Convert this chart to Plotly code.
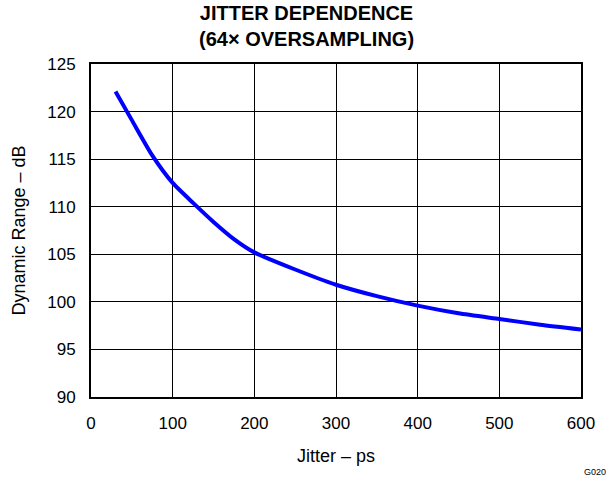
import plotly.graph_objects as go

# Dynamic range vs. clock jitter, 64x oversampling
jitter_ps = [30, 50, 75, 100, 125, 150, 175, 200, 250, 300, 350, 400, 450, 500, 550, 600]
dynamic_range_db = [122.1, 119.1, 115.4, 112.5, 110.4, 108.4, 106.6, 105.2, 103.4, 101.8,
                    100.6, 99.6, 98.8, 98.2, 97.6, 97.1]

x_ticks = [0, 100, 200, 300, 400, 500, 600]
y_ticks = [90, 95, 100, 105, 110, 115, 120, 125]

font_family = "Liberation Sans, Arial, sans-serif"

fig = go.Figure()
fig.add_trace(go.Scatter(
    x=jitter_ps, y=dynamic_range_db, mode="lines",
    line=dict(color="#0000FF", width=4, shape="spline", smoothing=0.6),
    hoverinfo="skip", showlegend=False,
))

axis_common = dict(
    showline=True, linecolor="black", linewidth=2, mirror=True,
    showgrid=True, gridcolor="black", gridwidth=1,
    ticks="", zeroline=False,
    tickfont=dict(family=font_family, size=17, color="black"),
)

fig.update_xaxes(range=[0, 600], tickvals=x_ticks, ticklabelstandoff=10, **axis_common)
fig.update_yaxes(range=[90, 125], tickvals=y_ticks, ticklabelstandoff=10, **axis_common)

fig.update_layout(
    width=612, height=478,
    margin=dict(l=91, r=31, t=64, b=81),
    paper_bgcolor="white", plot_bgcolor="white",
    font=dict(family=font_family, color="black"),
    annotations=[
        dict(text="<b>JITTER DEPENDENCE<br>(64\u00d7 OVERSAMPLING)</b>",
             xref="paper", yref="paper", x=0.439, y=1.0, yshift=12,
             xanchor="center", yanchor="bottom", showarrow=False,
             font=dict(size=20, family=font_family)),
        dict(text="Jitter \u2013 ps", xref="paper", yref="paper",
             x=0.5, y=0, yshift=-47, xanchor="center", yanchor="top",
             showarrow=False, font=dict(size=18, family=font_family)),
        dict(text="Dynamic Range \u2013 dB", xref="paper", yref="paper",
             x=0, xshift=-73, y=0.5, textangle=-90,
             xanchor="center", yanchor="middle",
             showarrow=False, font=dict(size=18, family=font_family)),
        dict(text="G020", xref="paper", yref="paper",
             x=1, xshift=27, y=0, yshift=-68, xanchor="right", yanchor="top",
             showarrow=False, font=dict(size=9, family=font_family)),
    ],
)

fig.write_html("out.html")
